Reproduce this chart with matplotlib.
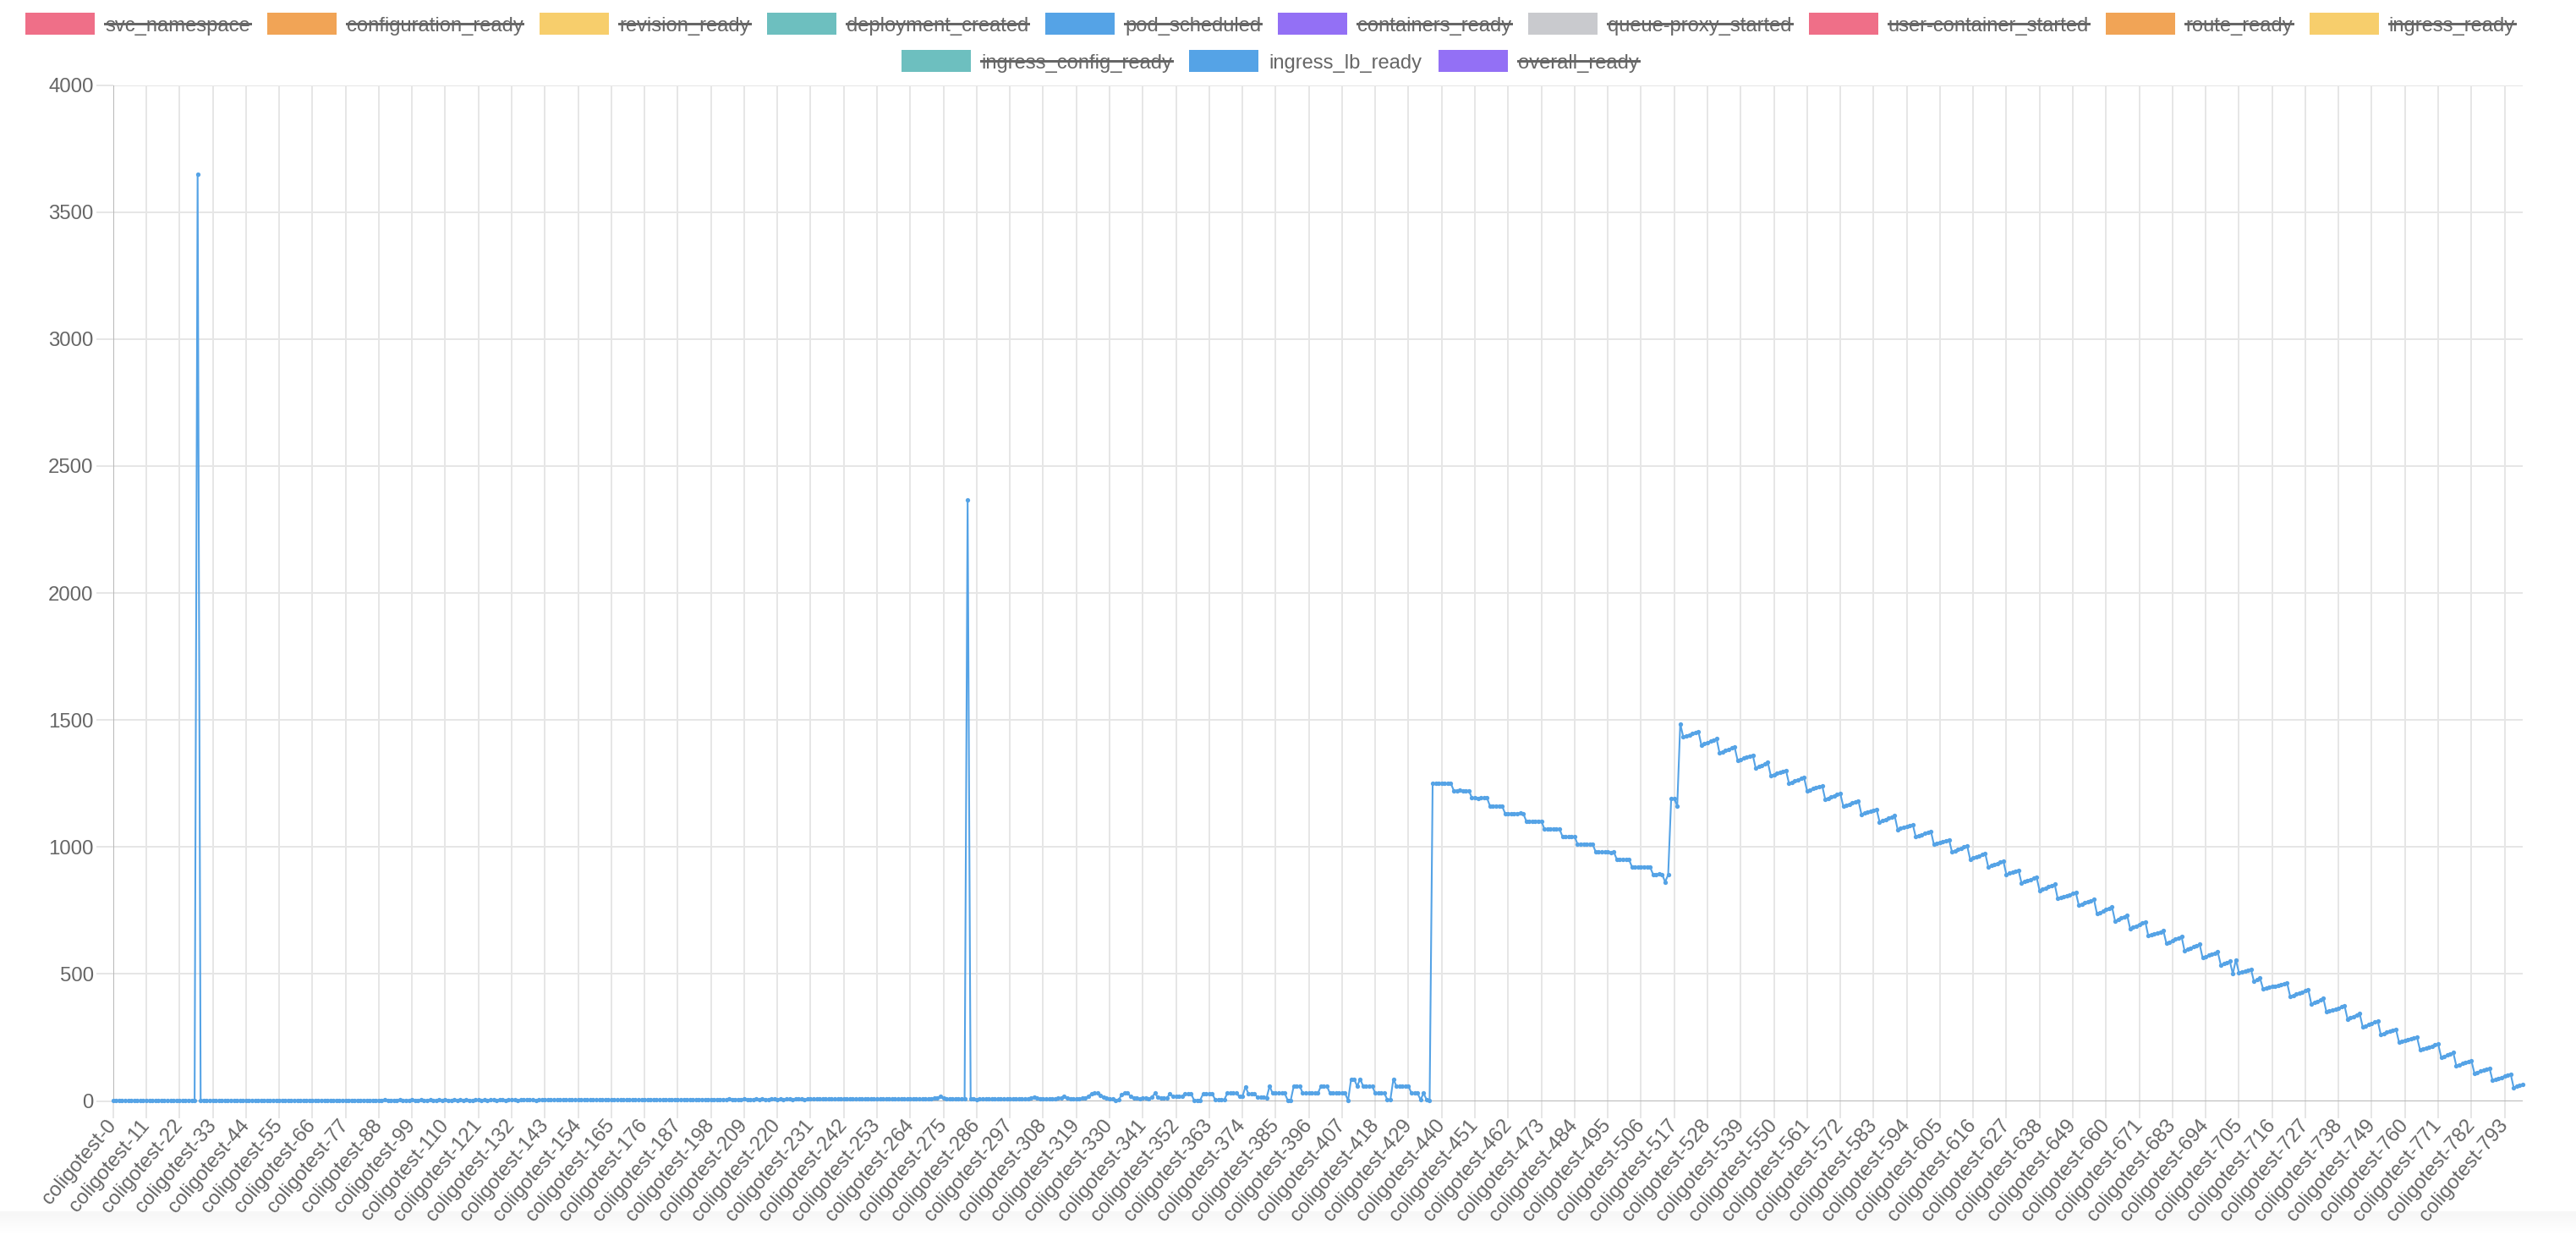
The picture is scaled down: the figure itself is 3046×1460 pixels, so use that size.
import matplotlib
matplotlib.use('Agg')
import matplotlib.pyplot as plt
from matplotlib.patches import Rectangle
from matplotlib.lines import Line2D
import numpy as np

plt.rcParams['font.family'] = ['Liberation Sans', 'DejaVu Sans']

# legend entries (only ingress_lb_ready is shown, the rest are toggled off)
series_names = ['svc_namespace', 'configuration_ready', 'revision_ready', 'deployment_created',
                'pod_scheduled', 'containers_ready', 'queue-proxy_started', 'user-container_started',
                'route_ready', 'ingress_ready', 'ingress_config_ready', 'ingress_lb_ready', 'overall_ready']
series_colors = ['#EF6F88', '#F1A456', '#F7CE6C', '#6DBFBF', '#55A3E6', '#9370F5', '#C9CACE',
                 '#EF6F88', '#F1A456', '#F7CE6C', '#6DBFBF', '#55A3E6', '#9370F5']
series_hidden = [True, True, True, True, True, True, True, True, True, True, True, False, True]

# category labels (coligotest-672 is missing from the run)
label_ids = list(range(0, 672)) + list(range(673, 800))
categories = ['coligotest-%d' % n for n in label_ids]

# ingress_lb_ready
lb_part_a = [
    2, 2, 3, 2, 2, 2, 3, 2, 2, 2, 2, 3, 2, 2, 2, 2, 3, 2, 2, 2, 3, 2, 2, 2, 2, 3, 2, 2,
    3650,
    2, 3, 2, 2, 3, 2, 2, 3, 2, 2, 3, 2,
    3, 2, 2, 3, 2, 3, 2, 2, 3, 2, 3, 2,
    3, 3, 2, 3, 2, 3, 3, 2, 3, 3, 2, 3,
    3, 2, 3, 3, 2, 3, 3, 3, 2, 3, 3, 2,
    3, 3, 3, 2, 3, 3, 3, 3, 2, 3, 3, 3,
    3, 4, 3, 3, 3, 3, 4, 3, 3, 3, 4, 3,
    3, 4, 3, 3, 4, 3, 3, 4, 3, 4, 3, 3,
    4, 3, 4, 3, 4, 3, 3, 4, 4, 3, 4, 3,
    4, 4, 3, 4, 4, 3, 4, 4, 4, 3, 4, 4,
    4, 4, 4, 3, 4, 4, 4, 5, 4, 4, 4, 4,
    5, 4, 4, 4, 5, 4, 4, 5, 4, 5, 4, 4,
    5, 4, 5, 5, 4, 5, 4, 5, 5, 4, 5, 5,
    5, 4, 5, 5, 5, 6, 5, 5, 5, 5, 6, 5,
    5, 6, 5, 5, 6, 5, 6, 5, 5, 6, 6, 5,
    6, 6, 5, 6, 6, 6, 5, 7, 6, 6, 6, 6,
    7, 6, 6, 6, 7, 6, 7, 6, 6, 7, 7, 6,
    7, 6, 7, 7, 6, 7, 8, 7, 6, 7, 7, 7,
    8, 7, 7, 7, 8, 7, 7, 8, 7, 8, 7, 7,
    8, 8, 7, 8, 7, 8, 9, 8, 7, 8, 8, 8,
    9, 8, 8, 8, 9, 8, 8, 9, 8, 9, 8, 8,
    9, 8, 9, 10, 12, 18, 10, 9, 8, 9, 8, 9,
    8, 7,
    2366,
    7, 8, 6, 7, 8, 7, 8, 7, 8,
]
lb_part_b = [
    8, 7, 8, 8, 7, 8, 8, 9, 8, 8, 9, 10,
    14, 10, 8, 8, 7, 8, 8, 9, 10, 12, 17, 10,
    8, 8, 8, 9, 10, 12, 18, 28, 30, 30, 22, 15,
    10, 9, 8, 2, 4, 24, 30, 30, 18, 12, 10, 8,
    10, 12, 8, 14, 30, 14, 11, 11, 12, 28, 17, 17,
    17, 17, 28, 28, 28, 3, 3, 3, 28, 28, 28, 28,
    5, 5, 5, 5, 30, 30, 30, 30, 17, 17, 56, 28,
    28, 28, 15, 15, 15, 12, 58, 30, 30, 30, 30, 30,
    3, 3, 58, 58, 58, 30, 30, 30, 30, 30, 30, 58,
    58, 58, 30, 30, 30, 30, 30, 30, 2, 86, 86, 58,
    86, 58, 58, 58, 58, 30, 30, 30, 30, 5, 5, 86,
    58, 58, 58, 58, 58, 30, 30, 30, 5, 30, 5, 2,
]
lb_part_c = [
    1251, 1251, 1252, 1251, 1251, 1250, 1251,
    1222, 1222, 1223, 1222, 1221, 1222,
    1193, 1193, 1192, 1193, 1193, 1193,
    1161, 1161, 1162, 1161, 1161,
    1132, 1132, 1131, 1132, 1132, 1133, 1132,
    1102, 1102, 1101, 1102, 1102, 1102,
    1071, 1071, 1072, 1071, 1071, 1071,
    1041, 1041, 1040, 1041, 1041,
    1011, 1011, 1012, 1011, 1011, 1011,
    980, 980, 981, 980, 980, 979, 980,
    951, 951, 952, 951, 951,
    922, 922, 921, 922, 922, 922, 921,
    892, 892, 893, 892,
    862, 891, 1191, 1191, 1161, 1485,
]
lb_part_d = [
    1433, 1438, 1442, 1446, 1450, 1455,
    1401, 1406, 1411, 1416, 1421, 1427,
    1371, 1375, 1380, 1384, 1389, 1393,
    1341, 1345, 1349, 1354, 1358, 1362,
    1310, 1316, 1322, 1327, 1333,
    1280, 1284, 1289, 1293, 1298, 1302,
    1251, 1255, 1260, 1264, 1269, 1273,
    1221, 1225, 1229, 1233, 1237, 1241,
    1188, 1192, 1197, 1201, 1206, 1210,
    1160, 1164, 1169, 1173, 1178, 1182,
    1129, 1133, 1137, 1141, 1145, 1149,
    1099, 1104, 1109, 1113, 1118, 1123,
    1069, 1073, 1077, 1080, 1084, 1088,
    1040, 1044, 1049, 1053, 1058, 1062,
    1010, 1014, 1018, 1021, 1025, 1029,
    980, 985, 990, 995, 1000, 1005,
    952, 956, 961, 965, 970, 974,
    922, 926, 931, 935, 940, 944,
    892, 896, 900, 905, 909,
    859, 863, 868, 872, 877, 881,
    828, 833, 838, 843, 848, 853,
    797, 801, 805, 808, 812, 816, 820,
    770, 775, 780, 784, 789, 794,
    737, 742, 747, 753, 758, 763,
    708, 714, 720, 725, 731,
    678, 684, 689, 695, 700, 706,
    650, 654, 658, 662, 666, 670,
    620, 626, 631, 637, 642, 648,
    592, 597, 602, 607, 612, 617,
    563, 568, 573, 577, 582, 587,
    536, 541, 545, 550, 500, 556, 506, 508, 511, 515, 519, 470, 478, 483,
    442, 445, 447, 450, 452, 455, 458, 460, 463,
    411, 415, 420, 424, 428, 433, 437,
    381, 387, 392, 398, 403,
    350, 354, 358, 362, 366, 370, 374,
    322, 328, 333, 339, 344,
    292, 296, 301, 305, 310, 314,
    261, 265, 270, 274, 279, 283,
    233, 236, 239, 242, 245, 248, 250,
    201, 205, 209, 213, 216, 220, 224,
    172, 176, 181, 186, 190,
    139, 143, 147, 151, 155, 159,
    109, 113, 117, 121, 125, 129,
    81, 85, 89, 93, 98, 102, 106,
    53, 57, 61, 65,
]
ingress_lb_ready = lb_part_a + lb_part_b + lb_part_c + lb_part_d

y_ticks = [0, 500, 1000, 1500, 2000, 2500, 3000, 3500, 4000]

W, H, DPI = 3046, 1460, 100
PX = 72.0 / DPI          # points per pixel
fig = plt.figure(figsize=(W / DPI, H / DPI), dpi=DPI)
fig.patch.set_facecolor('white')

left, right, top, bottom = 133.7, 2983.0, 100.5, 1301.5
ax = fig.add_axes([left / W, 1 - bottom / H, (right - left) / W, (bottom - top) / H], zorder=2)

x = np.arange(len(ingress_lb_ready))
ax.plot(x, ingress_lb_ready, color='#55A3E6', lw=1.5, marker='o', markersize=3.8,
        markeredgewidth=0, clip_on=False, zorder=3)

ax.set_xlim(0, len(ingress_lb_ready) - 1)
ax.set_ylim(0, 4000)

grid_c = '#E6E6E6'
zero_c = '#B8B8B8'
tick_pos = list(range(0, len(categories), 11))
ax.set_xticks(tick_pos)
ax.set_xticklabels([categories[i] for i in tick_pos], rotation=50, ha='right', va='center',
                   rotation_mode='anchor')
ax.set_yticks(y_ticks)
ax.set_yticklabels([str(v) for v in y_ticks])
ax.tick_params(axis='both', length=20 * PX, width=2 * PX, color=grid_c,
               labelsize=24 * PX, labelcolor='#666666')
ax.tick_params(axis='x', pad=5 * PX)
ax.tick_params(axis='y', pad=3 * PX)
ax.grid(True, color=grid_c, linewidth=2 * PX)
ax.set_axisbelow(True)
for s in ax.spines.values():
    s.set_visible(False)
ax.axhline(0, color=zero_c, lw=2 * PX, zorder=1.5)
ax.axvline(0, color=zero_c, lw=2 * PX, zorder=1.5)
ax.xaxis.get_major_ticks()[0].tick1line.set_color(zero_c)
ax.yaxis.get_major_ticks()[0].tick1line.set_color(zero_c)

# legend drawn by hand, chart.js style with struck-through hidden series
fs = 23.8 * PX
renderer = fig.canvas.get_renderer()
rows = [list(range(0, 10)), list(range(10, 13))]
row_centers = [28, 72]
box_w, box_h, gap, spacing = 82, 26, 12, 20
cx = 1502
for row, yc in zip(rows, row_centers):
    texts = []
    widths = []
    for k in row:
        t = fig.text(0, 1 - (yc + 8.5) / H, series_names[k], fontsize=fs, color='#666666',
                     ha='left', va='baseline')
        texts.append(t)
        widths.append(t.get_window_extent(renderer).width)
    total = sum(box_w + gap + w for w in widths) + spacing * (len(row) - 1)
    xpos = cx - total / 2
    for k, t, w in zip(row, texts, widths):
        fig.patches.append(Rectangle((xpos / W, 1 - (yc + box_h / 2) / H), box_w / W, box_h / H,
                                     transform=fig.transFigure, facecolor=series_colors[k],
                                     edgecolor='none'))
        tx = xpos + box_w + gap
        t.set_x(tx / W)
        if series_hidden[k]:
            fig.lines.append(Line2D([tx / W, (tx + w) / W], [1 - yc / H, 1 - yc / H],
                                    transform=fig.transFigure, color='#666666', lw=3 * PX))
        xpos = tx + w + spacing

# faint shadow along the bottom edge
gax = fig.add_axes([0, 0, 1, 28 / H], zorder=-5)
grad = np.linspace(1.0, 0.0, 28).reshape(-1, 1)
gax.imshow(grad, aspect='auto', cmap='Greys', vmin=0, vmax=14, extent=[0, 1, 0, 1])
gax.axis('off')

fig.savefig('out.png', dpi=DPI, facecolor='white')
